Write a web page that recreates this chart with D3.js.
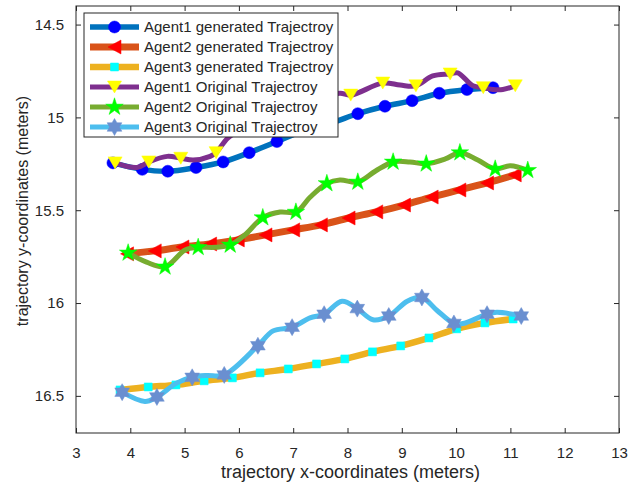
<!DOCTYPE html>
<html>
<head>
<meta charset="utf-8">
<script src="https://cdn.jsdelivr.net/npm/d3@7"></script>
<style>
  body { margin: 0; background: #ffffff; }
  text { font-family: "Liberation Sans", Arial, Helvetica, sans-serif; fill: #262626; }
</style>
</head>
<body>
<svg id="chart" width="633" height="492"></svg>
<script>
// ---- data (metres) ----
const xTicks = [3, 4, 5, 6, 7, 8, 9, 10, 11, 12, 13];
const yTicks = [14.5, 15, 15.5, 16, 16.5];
const yTickLabels = ["14.5", "15", "15.5", "16", "16.5"];

// Agent1 generated trajectory
const a1GenX = [3.68, 4.22, 4.69, 5.21, 5.71, 6.19, 6.70, 7.20, 7.70, 8.19, 8.69, 9.19, 9.69, 10.20, 10.68];
const a1GenY = [15.245, 15.28, 15.29, 15.27, 15.24, 15.19, 15.13, 15.07, 15.03, 14.98, 14.94, 14.91, 14.87, 14.85, 14.84];

// Agent2 generated trajectory
const a2GenX = [3.94, 4.45, 4.96, 5.47, 5.98, 6.49, 7.00, 7.51, 8.02, 8.53, 9.04, 9.55, 10.06, 10.57, 11.08];
const a2GenY = [15.735, 15.719, 15.698, 15.682, 15.660, 15.633, 15.606, 15.579, 15.542, 15.509, 15.472, 15.429, 15.391, 15.353, 15.310];

// Agent3 generated trajectory
const a3GenX = [3.81, 4.33, 4.84, 5.36, 5.88, 6.39, 6.91, 7.43, 7.95, 8.46, 8.98, 9.50, 10.01, 10.53, 11.05];
const a3GenY = [16.468, 16.452, 16.441, 16.419, 16.403, 16.376, 16.355, 16.328, 16.301, 16.263, 16.231, 16.188, 16.139, 16.107, 16.086];

// Agent1 original trajectory (recorded samples; markers on a subset)
const a1OrgX = [3.72, 4.12, 4.34, 4.68, 4.93, 5.16, 5.47, 5.58, 5.80, 6.19, 6.81, 7.44, 7.86, 8.06, 8.65, 8.97, 9.26, 9.57, 9.89, 10.03, 10.31, 10.50, 10.68, 10.86, 11.09];
const a1OrgY = [15.245, 15.27, 15.24, 15.21, 15.22, 15.23, 15.21, 15.19, 15.11, 15.04, 14.94, 14.90, 14.87, 14.88, 14.815, 14.826, 14.83, 14.777, 14.766, 14.76, 14.83, 14.84, 14.85, 14.85, 14.83];
const a1OrgMarks = [0, 2, 4, 7, 9, 10, 11, 13, 14, 16, 18, 21, 24];

// Agent2 original trajectory
const a2OrgX = [3.96, 4.30, 4.64, 5.01, 5.25, 5.56, 5.84, 6.11, 6.44, 6.76, 7.05, 7.31, 7.62, 7.86, 8.19, 8.51, 8.84, 9.15, 9.45, 9.80, 10.07, 10.40, 10.72, 11.00, 11.32];
const a2OrgY = [15.73, 15.78, 15.805, 15.714, 15.70, 15.70, 15.687, 15.633, 15.54, 15.51, 15.51, 15.43, 15.356, 15.337, 15.348, 15.29, 15.24, 15.24, 15.25, 15.224, 15.19, 15.23, 15.278, 15.26, 15.285];
const a2OrgMarks = [0, 2, 4, 6, 8, 10, 12, 14, 16, 18, 20, 22, 24];

// Agent3 original trajectory
const a3OrgX = [3.85, 4.27, 4.49, 4.86, 5.14, 5.41, 5.73, 6.35, 6.63, 6.98, 7.31, 7.57, 7.90, 8.18, 8.47, 8.76, 9.10, 9.37, 9.65, 9.96, 10.13, 10.57, 10.75, 11.20];
const a3OrgY = [16.48, 16.53, 16.506, 16.43, 16.40, 16.39, 16.387, 16.23, 16.15, 16.13, 16.08, 16.06, 15.99, 16.03, 16.09, 16.07, 15.99, 15.97, 16.04, 16.11, 16.11, 16.06, 16.05, 16.07];
const a3OrgMarks = [0, 2, 4, 6, 7, 9, 11, 13, 15, 17, 19, 21, 23];

const seriesNames = [
  "Agent1 generated Trajectroy",
  "Agent2 generated Trajectroy",
  "Agent3 generated Trajectroy",
  "Agent1 Original Trajectroy",
  "Agent2 Original Trajectroy",
  "Agent3 Original Trajectroy"
];

// ---- layout ----
const W = 633, H = 492;
const plot = { left: 76, right: 619, top: 6, bottom: 433 };

const x = d3.scaleLinear().domain([3, 13]).range([plot.left, plot.right]);
const y = d3.scaleLinear().domain([14.4, 16.7]).range([plot.top, plot.bottom]);

const svg = d3.select("#chart");
svg.append("rect").attr("width", W).attr("height", H).attr("fill", "#ffffff");

// ---- marker shapes ----
function trianglePath(dir, w, h) {
  const hw = w / 2, hh = h / 2;
  if (dir === "left") return `M${-hw},0L${hw},${-hh}L${hw},${hh}Z`;
  return `M${-hw},${-hh}L${hw},${-hh}L0,${hh}Z`;
}
function hexagramPath(R) {
  const r = R / Math.sqrt(3);
  const pts = [];
  for (let i = 0; i < 12; i++) {
    const a = -Math.PI / 2 + i * Math.PI / 6;
    const rad = i % 2 === 0 ? R : r;
    pts.push([rad * Math.cos(a), rad * Math.sin(a)]);
  }
  return "M" + pts.map(p => p[0].toFixed(2) + "," + p[1].toFixed(2)).join("L") + "Z";
}
const markerShapes = {
  circle: d3.symbol(d3.symbolCircle, Math.PI * 36)(),
  square: d3.symbol(d3.symbolSquare, 64)(),
  star: d3.symbol(d3.symbolStar, 95)(),
  triLeft: trianglePath("left", 13, 14),
  triDown: trianglePath("down", 14, 12),
  hexagram: hexagramPath(8.5)
};

function zipPts(xs, ys) { return xs.map((v, i) => [v, ys[i]]); }
function pick(pts, idx) { return idx.map(i => pts[i]); }

const a1Gen = zipPts(a1GenX, a1GenY);
const a2Gen = zipPts(a2GenX, a2GenY);
const a3Gen = zipPts(a3GenX, a3GenY);
const a1Org = zipPts(a1OrgX, a1OrgY);
const a2Org = zipPts(a2OrgX, a2OrgY);
const a3Org = zipPts(a3OrgX, a3OrgY);

const series = [
  { name: seriesNames[0], pts: a1Gen, marks: a1Gen, line: "#0072BD", lw: 5.5, shape: "circle", fill: "#0000FF" },
  { name: seriesNames[1], pts: a2Gen, marks: a2Gen, line: "#D95319", lw: 7, shape: "triLeft", fill: "#FF0000" },
  { name: seriesNames[2], pts: a3Gen, marks: a3Gen, line: "#EDB120", lw: 6.5, shape: "square", fill: "#00FFFF" },
  { name: seriesNames[3], pts: a1Org, marks: pick(a1Org, a1OrgMarks), line: "#7E2F8E", lw: 5, shape: "triDown", fill: "#FFFF00" },
  { name: seriesNames[4], pts: a2Org, marks: pick(a2Org, a2OrgMarks), line: "#77AC30", lw: 5, shape: "star", fill: "#00FF00" },
  { name: seriesNames[5], pts: a3Org, marks: pick(a3Org, a3OrgMarks), line: "#4DBEEE", lw: 5, shape: "hexagram", fill: "#6A8FD0" }
];

const lineGen = d3.line()
  .x(d => x(d[0]))
  .y(d => y(d[1]))
  .curve(d3.curveCatmullRom.alpha(0.5));

// ---- series ----
const g = svg.append("g");
series.forEach(s => {
  g.append("path")
    .attr("d", lineGen(s.pts))
    .attr("fill", "none")
    .attr("stroke", s.line)
    .attr("stroke-width", s.lw)
    .attr("stroke-linejoin", "round")
    .attr("stroke-linecap", "butt");
  g.selectAll(null)
    .data(s.marks)
    .enter()
    .append("path")
    .attr("d", markerShapes[s.shape])
    .attr("transform", d => `translate(${x(d[0])},${y(d[1])})`)
    .attr("fill", s.fill)
    .attr("stroke", s.fill)
    .attr("stroke-width", 0.5);
});

// ---- axes box and ticks ----
const axisColor = "#262626";
const tickLen = 5;
const axes = svg.append("g");
axes.append("rect")
  .attr("x", plot.left).attr("y", plot.top)
  .attr("width", plot.right - plot.left).attr("height", plot.bottom - plot.top)
  .attr("fill", "none").attr("stroke", axisColor).attr("stroke-width", 1);

const xAxisB = d3.axisBottom(x).tickValues(xTicks).tickSizeInner(-tickLen).tickSizeOuter(0).tickPadding(14).tickFormat(d3.format("d"));
const xAxisT = d3.axisTop(x).tickValues(xTicks).tickSizeInner(-tickLen).tickSizeOuter(0).tickFormat("");
const yAxisL = d3.axisLeft(y).tickValues(yTicks).tickSizeInner(-tickLen).tickSizeOuter(0).tickPadding(12).tickFormat((d, i) => yTickLabels[i]);
const yAxisR = d3.axisRight(y).tickValues(yTicks).tickSizeInner(-tickLen).tickSizeOuter(0).tickFormat("");

function styleAxis(sel) {
  sel.select(".domain").remove();
  sel.selectAll("line").attr("stroke", axisColor).attr("stroke-width", 1);
  sel.selectAll("text")
    .attr("fill", axisColor)
    .style("font-size", "15px")
    .style("font-family", '"Liberation Sans", Arial, sans-serif');
}
axes.append("g").attr("transform", `translate(0,${plot.bottom})`).call(xAxisB).call(styleAxis);
axes.append("g").attr("transform", `translate(0,${plot.top})`).call(xAxisT).call(styleAxis);
axes.append("g").attr("transform", `translate(${plot.left},0)`).call(yAxisL).call(styleAxis);
axes.append("g").attr("transform", `translate(${plot.right},0)`).call(yAxisR).call(styleAxis);

// axis titles
svg.append("text")
  .attr("x", (plot.left + plot.right) / 2 + 3)
  .attr("y", 478)
  .attr("text-anchor", "middle")
  .style("font-size", "18px")
  .text("trajectory x-coordinates (meters)");
svg.append("text")
  .attr("transform", "translate(28,211) rotate(-90)")
  .attr("text-anchor", "middle")
  .style("font-size", "16px")
  .text("trajectory y-coordinates (meters)");

// ---- legend ----
const leg = { x: 84, y: 13, w: 254, h: 124, rowH: 20, firstRow: 14 };
const legendG = svg.append("g");
legendG.append("rect")
  .attr("x", leg.x).attr("y", leg.y).attr("width", leg.w).attr("height", leg.h)
  .attr("fill", "#ffffff").attr("stroke", "#262626").attr("stroke-width", 1);
series.forEach((s, i) => {
  const yy = leg.y + leg.firstRow + i * leg.rowH;
  legendG.append("line")
    .attr("x1", 90).attr("x2", 139).attr("y1", yy).attr("y2", yy)
    .attr("stroke", s.line).attr("stroke-width", s.lw);
  legendG.append("path")
    .attr("d", markerShapes[s.shape])
    .attr("transform", `translate(114.5,${yy})`)
    .attr("fill", s.fill).attr("stroke", s.fill).attr("stroke-width", 0.5);
  legendG.append("text")
    .attr("x", 144).attr("y", yy)
    .attr("dy", "0.35em")
    .style("font-size", "15px")
    .text(s.name);
});
</script>
</body>
</html>
